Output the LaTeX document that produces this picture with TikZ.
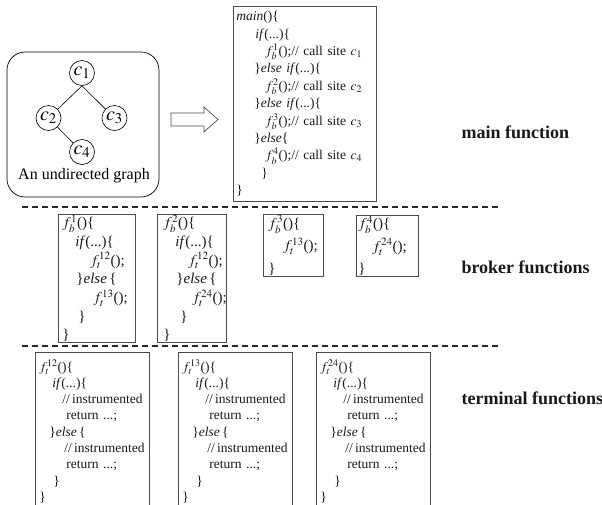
\documentclass[tikz,border=0pt]{standalone}
\usepackage{mathptmx}
\usepackage{fontspec}
\setmainfont{Liberation Serif}
\usetikzlibrary{positioning,backgrounds,arrows.meta}

\newcommand{\ind}[1]{\hspace*{#1pt}}

\begin{document}
\begin{tikzpicture}[x=1pt,y=-1pt]
        \tikzset{
          codebox/.style={
            draw=black!70,line width=0.8pt,anchor=north west,align=left,
            inner ysep=0pt,text=black!90,
          },
          main code/.style={codebox,font=\fontsize{13.5}{17.4}\selectfont},
          broker code/.style={codebox,font=\fontsize{15}{18.7}\selectfont},
          short code/.style={codebox,font=\fontsize{15}{22.5}\selectfont},
          terminal code/.style={codebox,font=\fontsize{13.5}{16.3}\selectfont},
          sommet/.style={circle,draw,line width=0.6pt,inner sep=0pt,minimum size=25pt,
            font=\fontsize{20}{22}\selectfont},
          etiquette/.style={anchor=west,font=\fontsize{18}{20}\selectfont\bfseries,text=black!90},
          separation/.style={line width=1.1pt,dash pattern=on 6pt off 4pt,draw=black!85},
          fleche creuse/.style={draw=black!70,line width=0.7pt,fill=white},
          }
        \useasboundingbox (0,0) rectangle (602,504);

        % graph of the call sites
        \node[draw,line width=0.7pt,rounded corners=18pt,minimum width=152pt,minimum height=145pt] (graphe) at (83,124.5) {};
        \node[sommet] (c1) at (82,73) {$c_1$};
        \node[sommet] (c2) at (48.5,118) {$c_2$};
        \node[sommet] (c3) at (114.5,118) {$c_3$};
        \node[sommet] (c4) at (82,152) {$c_4$};
        \node[font=\fontsize{16}{18}\selectfont] (titre) at (84,176) {An undirected graph};
        \draw[line width=0.6pt] (c1.south) -- (c2);
        \draw[line width=0.6pt] (c1.south) -- (c3);
        \draw[line width=0.6pt] (c2) -- (c4);

        \coordinate (fl) at (171,119.5);
        \draw[fleche creuse] (fl) ++(0,-6.5) -- ++(33,0) -- ++(0,-6) -- ++(14,12.5)
            -- ++(-14,12.5) -- ++(0,-6) -- ++(-33,0) -- cycle;

        % main function
        \node[main code,inner xsep=3pt,text width=137pt,minimum height=195pt] (main) at (233,6) {%
          \textit{main}()\{\\
          \ind{19}\textit{if}(...)\{\\
          \ind{29}$f_b^1$();// call site $c_1$\\
          \ind{18}\}\textit{else if}(...)\{\\
          \ind{29}$f_b^2$();// call site $c_2$\\
          \ind{18}\}\textit{else if}(...)\{\\
          \ind{29}$f_b^3$();// call site $c_3$\\
          \ind{18}\}\textit{else}\{\\
          \ind{29}$f_b^4$();// call site $c_4$\\
          \ind{25}\}\\
          \}};
        \node[etiquette] (lmain) at (458,132) {main function};

        % broker functions
        \node[broker code,inner xsep=4pt,text width=69pt,minimum height=128pt] (b1) at (58,214) {%
          $f_b^1$()\{\\
          \ind{13}\textit{if}(...)\{\\
          \ind{28}$f_t^{12}$();\\
          \ind{14}\}\textit{else}\,\{\\
          \ind{31}$f_t^{13}$();\\
          \ind{16}\}\\
          \}};
        \node[broker code,inner xsep=6pt,text width=57pt,minimum height=128pt] (b2) at (157,214) {%
          $f_b^2$()\{\\
          \ind{12}\textit{if}(...)\{\\
          \ind{25}$f_t^{12}$();\\
          \ind{13}\}\textit{else}\,\{\\
          \ind{29}$f_t^{24}$();\\
          \ind{17}\}\\
          \}};
        \node[short code,inner xsep=5pt,text width=50pt,minimum height=62pt] (b3) at (263,214) {%
          $f_b^3$()\{\\
          \ind{15}$f_t^{13}$();\\
          \}};
        \node[short code,inner xsep=2pt,text width=58pt,minimum height=61pt] (b4) at (356,215) {%
          $f_b^4$()\{\\
          \ind{14}$f_t^{24}$();\\
          \}};
        \node[etiquette] (lbroker) at (458,267) {broker functions};

        % terminal functions
        \foreach \nom/\idx/\x in {t1/12/35,t2/13/178,t3/24/316}{
          \node[terminal code,inner xsep=4pt,text width=106pt,minimum height=158pt] (\nom) at (\x,352) {%
            $f_t^{\idx}$()\{\\
            \ind{13}\textit{if}(...)\{\\
            \ind{23}//\,\mbox{instrumented}\\
            \ind{27}return ...;\\
            \ind{10}\}\textit{else}\,\{\\
            \ind{25}//\,\mbox{instrumented}\\
            \ind{27}return ...;\\
            \ind{14}\}\\
            \}};
        }
        \node[etiquette] (lterminal) at (458,398) {terminal functions};

        \coordinate (s1a) at (22,207);
        \coordinate (s1b) at (500,207);
        \coordinate (s2a) at (22,346);
        \coordinate (s2b) at (500,346);
        \draw[separation] (s1a) -- (s1b);
        \draw[separation] (s2a) -- (s2b);
      \end{tikzpicture}
\end{document}
